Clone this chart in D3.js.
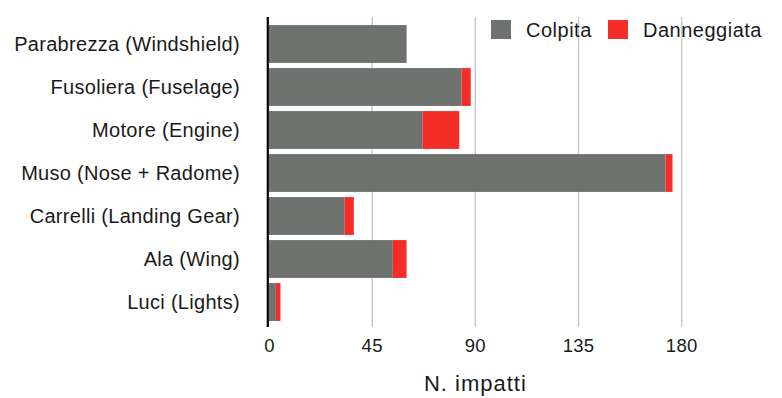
<!DOCTYPE html>
<html>
<head>
<meta charset="utf-8">
<script src="https://cdn.jsdelivr.net/npm/d3@7"></script>
<style>
  html, body { margin: 0; padding: 0; background: #fff; }
  svg { display: block; }
  text { font-family: "Liberation Sans", Arial, Helvetica, sans-serif; fill: #1a1a1a; }
</style>
</head>
<body>
<svg id="chart" width="782" height="398"></svg>
<script>
// Parti dell'aeromobile colpite / danneggiate
const categories = [
  "Parabrezza (Windshield)",
  "Fusoliera (Fuselage)",
  "Motore (Engine)",
  "Muso (Nose + Radome)",
  "Carrelli (Landing Gear)",
  "Ala (Wing)",
  "Luci (Lights)"
];
const colpita      = [60, 84, 67, 173, 33, 54, 3];
const danneggiata  = [0, 4, 16, 3, 4, 6, 2];
const xTicks = [0, 45, 90, 135, 180];
const seriesNames = ["Colpita", "Danneggiata"];
const seriesColors = ["#6e7370", "#f52d29"];

const svg = d3.select("#chart");

const x = d3.scaleLinear().domain([0, 180]).range([269, 681.7]);
const y = d3.scaleBand().domain(categories).range([22.5, 323.5])
  .paddingInner(0.12).paddingOuter(0.06);

const rows = categories.map((c, i) => ({ cat: c, Colpita: colpita[i], Danneggiata: danneggiata[i] }));
const stacked = d3.stack().keys(seriesNames)(rows);

const gridTop = 17, gridBottom = 327;

// griglia verticale
svg.append("g").selectAll("line")
  .data(xTicks.filter(d => d > 0))
  .join("line")
  .attr("x1", d => x(d)).attr("x2", d => x(d))
  .attr("y1", gridTop).attr("y2", gridBottom)
  .attr("stroke", "#c3c3c3").attr("stroke-width", 1.3);

// barre impilate
svg.append("g").selectAll("g")
  .data(stacked)
  .join("g")
  .attr("fill", (d, i) => seriesColors[i])
  .selectAll("rect")
  .data(d => d.map(v => Object.assign(v, { cat: v.data.cat })))
  .join("rect")
  .attr("x", d => x(d[0]))
  .attr("y", d => y(d.cat))
  .attr("width", d => x(d[1]) - x(d[0]))
  .attr("height", y.bandwidth());

// asse verticale
svg.append("line")
  .attr("x1", x(0) - 1.2).attr("x2", x(0) - 1.2)
  .attr("y1", gridTop).attr("y2", gridBottom)
  .attr("stroke", "#000").attr("stroke-width", 2.2);

// etichette categorie
svg.append("g").selectAll("text")
  .data(categories)
  .join("text")
  .attr("x", 240)
  .attr("y", d => y(d) + y.bandwidth() / 2)
  .attr("dy", "0.35em")
  .attr("text-anchor", "end")
  .attr("font-size", 20)
  .attr("letter-spacing", 0.3)
  .text(d => d);

// etichette asse x
svg.append("g").selectAll("text")
  .data(xTicks)
  .join("text")
  .attr("x", d => x(d) + (d === 0 ? 0.5 : 0))
  .attr("y", 351.5)
  .attr("text-anchor", "middle")
  .attr("font-size", 18.5)
  .attr("letter-spacing", 0.3)
  .text(d => d);

svg.append("text")
  .attr("x", x(90))
  .attr("y", 391)
  .attr("text-anchor", "middle")
  .attr("font-size", 22)
  .attr("letter-spacing", 1)
  .text("N. impatti");

// legenda
const legendX = [491, 608];
const legend = svg.append("g").selectAll("g")
  .data(seriesNames)
  .join("g")
  .attr("transform", (d, i) => `translate(${legendX[i]},20)`);
legend.append("rect")
  .attr("width", 20).attr("height", 19)
  .attr("fill", (d, i) => seriesColors[i]);
legend.append("text")
  .attr("x", 35).attr("y", 9.5).attr("dy", "0.35em")
  .attr("font-size", 20)
  .attr("letter-spacing", 0.5)
  .text(d => d);
</script>
</body>
</html>
